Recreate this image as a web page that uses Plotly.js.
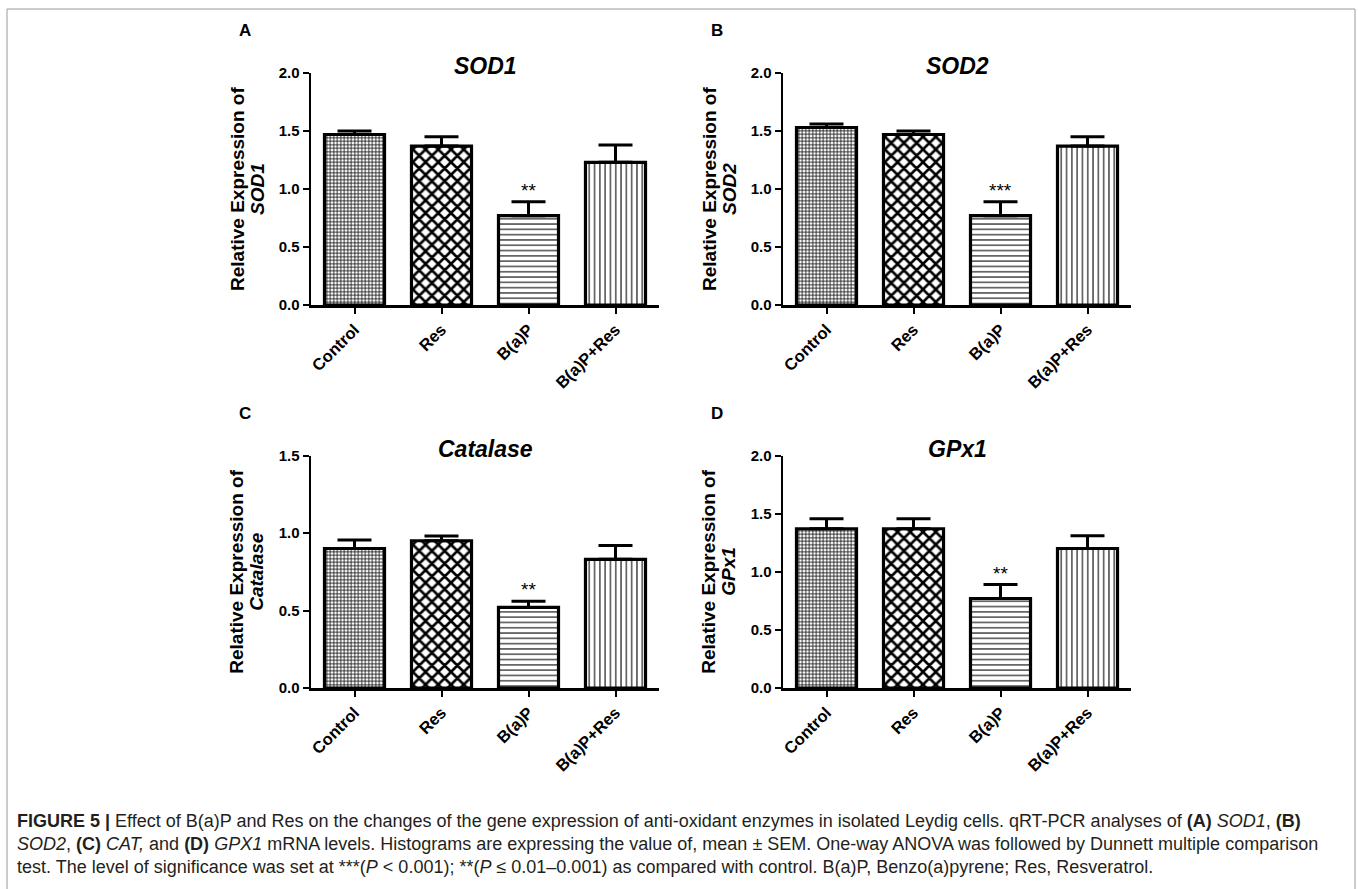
<!DOCTYPE html>
<html>
<head>
<meta charset="utf-8">
<script src="https://cdn.plot.ly/plotly-3.0.1.min.js"></script>
<style>
  html, body { margin: 0; padding: 0; background: #fff; }
  #chart { width: 1358px; height: 889px; }
</style>
</head>
<body>
<div id="chart"></div>
<script>
// ---- data ----
const categories = ['Control', 'Res', 'B(a)P', 'B(a)P+Res'];

const sod1Mean = [1.47, 1.37, 0.77, 1.23];
const sod1Sem  = [0.03, 0.08, 0.12, 0.15];
const sod1Sig  = ['', '', '**', ''];

const sod2Mean = [1.53, 1.47, 0.77, 1.37];
const sod2Sem  = [0.03, 0.03, 0.12, 0.08];
const sod2Sig  = ['', '', '***', ''];

const catMean = [0.90, 0.95, 0.52, 0.83];
const catSem  = [0.055, 0.03, 0.04, 0.09];
const catSig  = ['', '', '**', ''];

const gpx1Mean = [1.37, 1.37, 0.77, 1.20];
const gpx1Sem  = [0.085, 0.085, 0.12, 0.11];
const gpx1Sig  = ['', '', '**', ''];

const panelTitles = ['SOD1', 'SOD2', 'Catalase', 'GPx1'];
const panelLetters = ['A', 'B', 'C', 'D'];
const yMax = [2.0, 2.0, 1.5, 2.0];

// ---- layout helpers (pixel -> paper) ----
const W = 1358, H = 889;
const px = v => v / W;
const py = v => 1 - v / H;

const FONT = 'Liberation Sans, Arial, Helvetica, sans-serif';

const panels = [
  { mean: sod1Mean, sem: sod1Sem, sig: sod1Sig, x0: 311, x1: 659, yTop: 73,  yBot: 305 },
  { mean: sod2Mean, sem: sod2Sem, sig: sod2Sig, x0: 783, x1: 1131, yTop: 73,  yBot: 305 },
  { mean: catMean,  sem: catSem,  sig: catSig,  x0: 311, x1: 659, yTop: 455.5, yBot: 688 },
  { mean: gpx1Mean, sem: gpx1Sem, sig: gpx1Sig, x0: 783, x1: 1131, yTop: 455.5, yBot: 688 }
];

const pattern = {
  shape: ['+', 'x', '-', '|'],
  size: [3.5, 9, 5.3, 5.3],
  solidity: [0.4, 0.5, 0.2, 0.2],
  fgcolor: 'black',
  bgcolor: 'white',
  fillmode: 'replace'
};

const traces = [];
const layout = {
  width: W, height: H,
  margin: { l: 0, r: 0, t: 0, b: 0 },
  paper_bgcolor: 'white',
  plot_bgcolor: 'rgba(0,0,0,0)',
  showlegend: false,
  bargap: 0.31,
  annotations: [],
  shapes: [
    { type: 'rect', xref: 'paper', yref: 'paper',
      x0: px(7), x1: px(1355), y0: -0.1, y1: py(9),
      line: { color: '#9a9a9a', width: 1 }, fillcolor: 'rgba(0,0,0,0)' }
  ]
};

panels.forEach((p, i) => {
  const n = i + 1;
  const xa = 'x' + (n === 1 ? '' : n);
  const ya = 'y' + (n === 1 ? '' : n);
  traces.push({
    type: 'bar',
    x: categories,
    y: p.mean,
    xaxis: xa, yaxis: ya,
    marker: { color: 'white', line: { color: 'black', width: 3.2 }, pattern: pattern },
    error_y: { type: 'data', symmetric: false, array: p.sem, arrayminus: [0, 0, 0, 0],
               color: 'black', thickness: 3, width: 17 },
    hoverinfo: 'skip'
  });

  layout['xaxis' + (n === 1 ? '' : n)] = {
    domain: [px(p.x0), px(p.x1)],
    anchor: ya,
    type: 'category',
    range: [-0.5, 3.5],
    showline: true, linecolor: 'black', linewidth: 2.5,
    ticks: 'outside', ticklen: 6, tickwidth: 2, tickcolor: 'black',
    tickangle: -45,
    tickfont: { family: FONT, size: 16.5, color: 'black', weight: 'bold' },
    showgrid: false, zeroline: false, fixedrange: true
  };
  layout['yaxis' + (n === 1 ? '' : n)] = {
    domain: [py(p.yBot), py(p.yTop)],
    anchor: xa,
    range: [0, yMax[i]],
    dtick: 0.5, tickformat: '.1f',
    showline: true, linecolor: 'black', linewidth: 2.5,
    ticks: 'outside', ticklen: 6, tickwidth: 2, tickcolor: 'black',
    tickfont: { family: FONT, size: 15, color: 'black', weight: 'bold' },
    showgrid: false, zeroline: false, fixedrange: true
  };

  // panel title
  layout.annotations.push({
    xref: 'paper', yref: 'paper',
    x: px((p.x0 + p.x1) / 2), y: py(p.yTop - 7),
    xanchor: 'center', yanchor: 'middle', showarrow: false,
    text: '<b><i>' + panelTitles[i] + '</i></b>',
    font: { family: FONT, size: 23, color: 'black' }
  });
  // panel letter
  layout.annotations.push({
    xref: 'paper', yref: 'paper',
    x: px(p.x0 - 66), y: py(p.yTop - 42),
    xanchor: 'center', yanchor: 'middle', showarrow: false,
    text: '<b>' + panelLetters[i] + '</b>',
    font: { family: FONT, size: 17, color: 'black' }
  });
  // y-axis title (two lines)
  const yMid = (p.yTop + p.yBot) / 2;
  layout.annotations.push({
    xref: 'paper', yref: 'paper',
    x: px(p.x0 - 74), y: py(yMid),
    xanchor: 'center', yanchor: 'middle', showarrow: false, textangle: -90,
    text: '<b>Relative Expression of</b>',
    font: { family: FONT, size: 19, color: 'black' }
  });
  layout.annotations.push({
    xref: 'paper', yref: 'paper',
    x: px(p.x0 - 54), y: py(yMid),
    xanchor: 'center', yanchor: 'middle', showarrow: false, textangle: -90,
    text: '<b><i>' + panelTitles[i] + '</i></b>',
    font: { family: FONT, size: 19, color: 'black' }
  });
  // significance marks
  p.sig.forEach((s, k) => {
    if (!s) return;
    layout.annotations.push({
      xref: xa, yref: ya,
      x: categories[k], y: p.mean[k] + p.sem[k],
      xanchor: 'center', yanchor: 'bottom', showarrow: false, yshift: -1,
      text: s,
      font: { family: FONT, size: 19, color: 'black' }
    });
  });
});

// caption
const captionLines = [
  '<b>FIGURE 5 |</b> Effect of B(a)P and Res on the changes of the gene expression of anti-oxidant enzymes in isolated Leydig cells. qRT-PCR analyses of <b>(A)</b> <i>SOD1</i>, <b>(B)</b>',
  '<i>SOD2</i>, <b>(C)</b> <i>CAT,</i> and <b>(D)</b> <i>GPX1</i> mRNA levels. Histograms are expressing the value of, mean ± SEM. One-way ANOVA was followed by Dunnett multiple comparison',
  'test. The level of significance was set at ***(<i>P</i> &lt; 0.001); **(<i>P</i> ≤ 0.01–0.001) as compared with control. B(a)P, Benzo(a)pyrene; Res, Resveratrol.'
];
const captionY = [821, 844, 867];
captionLines.forEach((t, k) => {
  layout.annotations.push({
    xref: 'paper', yref: 'paper',
    x: px(15), y: py(captionY[k]),
    xanchor: 'left', yanchor: 'middle', showarrow: false,
    text: t,
    font: { family: FONT, size: 18, color: '#231f20' }
  });
});

Plotly.newPlot('chart', traces, layout, { staticPlot: true, displayModeBar: false });
</script>
</body>
</html>
